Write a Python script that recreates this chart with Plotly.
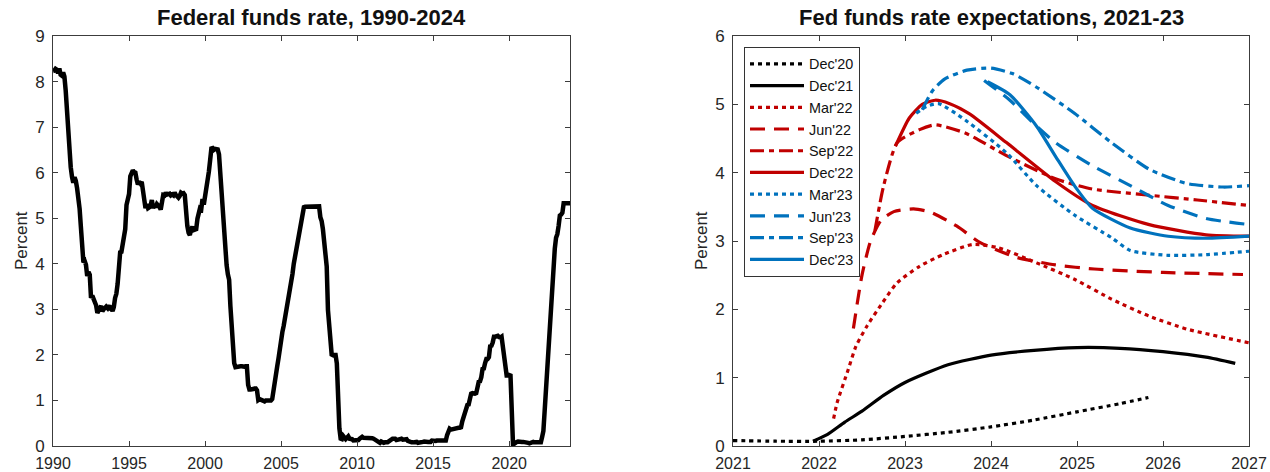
import plotly.graph_objects as go

# ---------------- Left panel: monthly effective federal funds rate ----------------
ffr_start_year = 1990
ffr_monthly = [
    # 1990
    8.23, 8.24, 8.28, 8.26, 8.18, 8.29, 8.15, 8.13, 8.20, 8.11, 7.81, 7.31,
    # 1991
    6.91, 6.25, 6.12, 5.91, 5.78, 5.90, 5.82, 5.66, 5.45, 5.21, 4.81, 4.43,
    # 1992
    4.03, 4.06, 3.98, 3.73, 3.82, 3.76, 3.25, 3.30, 3.22, 3.10, 3.09, 2.92,
    # 1993
    3.02, 3.03, 3.07, 2.96, 3.00, 3.04, 3.06, 3.03, 3.09, 2.99, 3.02, 2.96,
    # 1994
    3.05, 3.25, 3.34, 3.56, 4.01, 4.25, 4.26, 4.47, 4.73, 4.76, 5.29, 5.45,
    # 1995
    5.53, 5.92, 5.98, 6.05, 6.01, 6.00, 5.85, 5.74, 5.80, 5.76, 5.80, 5.60,
    # 1996
    5.56, 5.22, 5.31, 5.22, 5.24, 5.27, 5.40, 5.22, 5.30, 5.24, 5.31, 5.29,
    # 1997
    5.25, 5.19, 5.39, 5.51, 5.50, 5.56, 5.52, 5.54, 5.54, 5.50, 5.52, 5.50,
    # 1998
    5.56, 5.51, 5.49, 5.45, 5.49, 5.56, 5.54, 5.55, 5.51, 5.07, 4.83, 4.68,
    # 1999
    4.63, 4.76, 4.81, 4.74, 4.74, 4.76, 4.99, 5.07, 5.22, 5.20, 5.42, 5.30,
    # 2000
    5.45, 5.73, 5.85, 6.02, 6.27, 6.53, 6.54, 6.50, 6.52, 6.51, 6.51, 6.40,
    # 2001
    5.98, 5.49, 5.31, 4.80, 4.21, 3.97, 3.77, 3.65, 3.07, 2.49, 2.09, 1.82,
    # 2002
    1.73, 1.74, 1.73, 1.75, 1.75, 1.75, 1.73, 1.74, 1.75, 1.75, 1.34, 1.24,
    # 2003
    1.24, 1.26, 1.25, 1.26, 1.26, 1.22, 1.01, 1.03, 1.01, 1.01, 1.00, 0.98,
    # 2004
    1.00, 1.01, 1.00, 1.00, 1.00, 1.03, 1.26, 1.43, 1.61, 1.76, 1.93, 2.16,
    # 2005
    2.28, 2.50, 2.63, 2.79, 3.00, 3.04, 3.26, 3.50, 3.62, 3.78, 4.00, 4.16,
    # 2006
    4.29, 4.49, 4.59, 4.79, 4.94, 4.99, 5.24, 5.25, 5.25, 5.25, 5.25, 5.24,
    # 2007
    5.25, 5.26, 5.26, 5.25, 5.25, 5.25, 5.26, 5.02, 4.94, 4.76, 4.49, 4.24,
    # 2008
    3.94, 2.98, 2.61, 2.28, 1.98, 2.00, 2.01, 2.00, 1.81, 0.97, 0.39, 0.16,
    # 2009
    0.15, 0.22, 0.18, 0.15, 0.18, 0.21, 0.16, 0.16, 0.15, 0.12, 0.12, 0.12,
    # 2010
    0.11, 0.13, 0.16, 0.20, 0.20, 0.18, 0.18, 0.19, 0.19, 0.19, 0.19, 0.18,
    # 2011
    0.17, 0.16, 0.14, 0.10, 0.09, 0.09, 0.07, 0.10, 0.08, 0.07, 0.08, 0.07,
    # 2012
    0.08, 0.10, 0.13, 0.14, 0.16, 0.16, 0.16, 0.13, 0.14, 0.16, 0.16, 0.16,
    # 2013
    0.14, 0.15, 0.14, 0.15, 0.11, 0.09, 0.09, 0.08, 0.08, 0.09, 0.08, 0.09,
    # 2014
    0.07, 0.07, 0.08, 0.09, 0.09, 0.10, 0.09, 0.09, 0.09, 0.09, 0.09, 0.12,
    # 2015
    0.11, 0.11, 0.11, 0.12, 0.12, 0.13, 0.13, 0.14, 0.14, 0.12, 0.12, 0.24,
    # 2016
    0.34, 0.38, 0.36, 0.37, 0.37, 0.38, 0.39, 0.40, 0.40, 0.40, 0.41, 0.54,
    # 2017
    0.65, 0.66, 0.79, 0.90, 0.91, 1.04, 1.15, 1.16, 1.15, 1.15, 1.16, 1.30,
    # 2018
    1.41, 1.42, 1.51, 1.69, 1.70, 1.82, 1.91, 1.91, 1.95, 2.19, 2.20, 2.27,
    # 2019
    2.40, 2.40, 2.41, 2.42, 2.39, 2.38, 2.40, 2.13, 2.04, 1.83, 1.55, 1.55,
    # 2020
    1.55, 1.58, 0.65, 0.05, 0.05, 0.08, 0.09, 0.10, 0.09, 0.09, 0.09, 0.09,
    # 2021
    0.09, 0.08, 0.07, 0.07, 0.06, 0.08, 0.10, 0.09, 0.08, 0.08, 0.08, 0.08,
    # 2022
    0.08, 0.08, 0.20, 0.33, 0.77, 1.21, 1.68, 2.33, 2.56, 3.08, 3.78, 4.10,
    # 2023
    4.33, 4.57, 4.65, 4.83, 5.06, 5.08, 5.12, 5.33, 5.33, 5.33, 5.33, 5.33,
    # 2024
    5.33,
]
ffr_dates = [ffr_start_year + i / 12 for i in range(len(ffr_monthly))]

# ---------------- Right panel: expected fed funds rate paths ----------------
dec20_x = [2021.0, 2021.5, 2022.0, 2022.5, 2023.0, 2023.5, 2024.0, 2024.5, 2025.0, 2025.5, 2025.83]
dec20_y = [0.08, 0.07, 0.07, 0.09, 0.14, 0.20, 0.28, 0.38, 0.50, 0.62, 0.71]

dec21_x = [2021.93, 2022.1, 2022.3, 2022.5, 2022.75, 2023.0, 2023.5, 2024.0, 2024.5, 2025.0, 2025.5, 2026.0, 2026.5, 2026.84]
dec21_y = [0.07, 0.17, 0.35, 0.51, 0.74, 0.93, 1.19, 1.33, 1.40, 1.44, 1.43, 1.38, 1.30, 1.21]

mar22_x = [2022.17, 2022.21, 2022.34, 2022.43, 2022.56, 2022.74, 2022.91, 2023.17, 2023.44, 2023.79, 2024.09, 2024.53, 2024.97, 2025.40, 2025.84, 2026.28, 2027.0]
mar22_y = [0.40, 0.63, 1.12, 1.46, 1.76, 2.10, 2.39, 2.63, 2.80, 2.95, 2.90, 2.68, 2.44, 2.15, 1.90, 1.71, 1.51]

jun22_x = [2022.40, 2022.50, 2022.60, 2022.72, 2022.87, 2023.10, 2023.30, 2023.60, 2023.87, 2024.30, 2024.75, 2025.20, 2026.00, 2026.93]
jun22_y = [1.72, 2.50, 3.00, 3.30, 3.43, 3.47, 3.42, 3.22, 2.98, 2.76, 2.65, 2.59, 2.54, 2.51]

sep22_x = [2022.65, 2022.75, 2022.91, 2023.17, 2023.35, 2023.70, 2024.18, 2024.75, 2025.18, 2025.84, 2026.40, 2027.0]
sep22_y = [3.15, 3.80, 4.44, 4.63, 4.70, 4.58, 4.25, 3.91, 3.76, 3.67, 3.60, 3.52]

dec22_x = [2022.89, 2023.05, 2023.20, 2023.35, 2023.52, 2023.75, 2024.18, 2024.75, 2025.18, 2025.84, 2026.50, 2027.0]
dec22_y = [4.39, 4.80, 5.00, 5.06, 5.01, 4.86, 4.44, 3.87, 3.52, 3.24, 3.09, 3.07]

mar23_x = [2023.13, 2023.25, 2023.39, 2023.70, 2024.18, 2024.53, 2024.97, 2025.40, 2025.62, 2026.06, 2026.50, 2027.0]
mar23_y = [4.87, 4.97, 5.01, 4.77, 4.29, 3.81, 3.38, 3.05, 2.86, 2.79, 2.80, 2.85]

jun23_x = [2023.92, 2024.22, 2024.53, 2024.75, 2025.18, 2025.62, 2026.06, 2026.50, 2027.0]
jun23_y = [5.35, 5.06, 4.68, 4.44, 4.10, 3.81, 3.52, 3.33, 3.24]

sep23_x = [2023.20, 2023.32, 2023.46, 2023.72, 2024.00, 2024.25, 2024.53, 2024.97, 2025.40, 2025.84, 2026.28, 2026.70, 2027.0]
sep23_y = [4.92, 5.20, 5.37, 5.50, 5.53, 5.45, 5.25, 4.87, 4.44, 4.05, 3.84, 3.79, 3.81]

dec23_x = [2023.96, 2024.22, 2024.53, 2024.75, 2024.97, 2025.18, 2025.62, 2026.06, 2026.50, 2027.0]
dec23_y = [5.33, 5.14, 4.68, 4.24, 3.81, 3.48, 3.19, 3.07, 3.04, 3.07]

RED = "rgb(192,0,0)"
BLUE = "rgb(0,114,189)"
BLACK = "rgb(0,0,0)"

DOT = "4px,4px"
DASH = "15px,9px"
DASHDOT = "14px,5px,5px,5px"

series = [
    ("Dec'20", dec20_x, dec20_y, BLACK, DOT),
    ("Dec'21", dec21_x, dec21_y, BLACK, "solid"),
    ("Mar'22", mar22_x, mar22_y, RED, DOT),
    ("Jun'22", jun22_x, jun22_y, RED, DASH),
    ("Sep'22", sep22_x, sep22_y, RED, DASHDOT),
    ("Dec'22", dec22_x, dec22_y, RED, "solid"),
    ("Mar'23", mar23_x, mar23_y, BLUE, DOT),
    ("Jun'23", jun23_x, jun23_y, BLUE, DASH),
    ("Sep'23", sep23_x, sep23_y, BLUE, DASHDOT),
    ("Dec'23", dec23_x, dec23_y, BLUE, "solid"),
]

W, H = 1270, 472
fig = go.Figure()

fig.add_trace(go.Scatter(
    x=ffr_dates, y=ffr_monthly, mode="lines",
    line=dict(color="black", width=4.5), showlegend=False,
    xaxis="x", yaxis="y",
))

for name, xs, ys, color, dash in series:
    fig.add_trace(go.Scatter(
        x=xs, y=ys, mode="lines", name=name,
        line=dict(color=color, width=3.2, dash=dash, shape="spline", smoothing=0.6),
        xaxis="x2", yaxis="y2",
    ))

FONT = "Liberation Sans, Arial, sans-serif"
axis_common = dict(
    showline=True, mirror="ticks", linecolor="#3c3c3c", linewidth=1,
    ticks="inside", ticklen=5, tickcolor="#3c3c3c", tickwidth=1,
    showgrid=False, zeroline=False, automargin=False,
)
xtickfont = dict(family=FONT, size=16, color="#262626")
ytickfont = dict(family=FONT, size=17, color="#262626")

def px_x(p):
    return p / W

def px_y(p):
    return 1 - p / H

y_dom = [px_y(446), px_y(36)]
fig.update_layout(
    template="none",
    width=W, height=H,
    margin=dict(l=0, r=0, t=0, b=0, autoexpand=False),
    paper_bgcolor="white", plot_bgcolor="white",
    font=dict(family=FONT, color="#262626"),
    xaxis=dict(domain=[px_x(53), px_x(570)], range=[1990, 2024], tickmode="linear",
               tick0=1990, dtick=5, anchor="y", ticklabelstandoff=3,
               tickfont=xtickfont, **axis_common),
    yaxis=dict(domain=y_dom, range=[0, 9], tickmode="linear", tick0=0, dtick=1,
               anchor="x", ticklabelstandoff=4, tickfont=ytickfont, **axis_common),
    xaxis2=dict(domain=[px_x(733), px_x(1249)], range=[2021, 2027], tickmode="linear",
                tick0=2021, dtick=1, anchor="y2", ticklabelstandoff=3,
                tickfont=xtickfont, **axis_common),
    yaxis2=dict(domain=y_dom, range=[0, 6], tickmode="linear", tick0=0, dtick=1,
                anchor="x2", ticklabelstandoff=4, tickfont=ytickfont, **axis_common),
    legend=dict(
        x=px_x(744), y=px_y(47), xanchor="left", yanchor="top",
        bgcolor="white", bordercolor="#333333", borderwidth=1,
        font=dict(family=FONT, size=14.4, color="#111111"),
        tracegroupgap=0, itemwidth=54,
    ),
    showlegend=True,
)

annotations = [
    dict(text="<b>Federal funds rate, 1990-2024</b>", x=px_x((53 + 570) / 2), y=px_y(17),
         xref="paper", yref="paper", showarrow=False, xanchor="center", yanchor="middle",
         font=dict(family=FONT, size=22, color="#111111")),
    dict(text="<b>Fed funds rate expectations, 2021-23</b>", x=px_x((733 + 1249) / 2), y=px_y(17),
         xref="paper", yref="paper", showarrow=False, xanchor="center", yanchor="middle",
         font=dict(family=FONT, size=22, color="#111111")),
    dict(text="Percent", x=px_x(21), y=px_y(241), xref="paper", yref="paper",
         showarrow=False, textangle=-90, xanchor="center", yanchor="middle",
         font=dict(family=FONT, size=17, color="#262626")),
    dict(text="Percent", x=px_x(701), y=px_y(241), xref="paper", yref="paper",
         showarrow=False, textangle=-90, xanchor="center", yanchor="middle",
         font=dict(family=FONT, size=17, color="#262626")),
]
fig.update_layout(annotations=annotations)

fig.write_html("out.html")
